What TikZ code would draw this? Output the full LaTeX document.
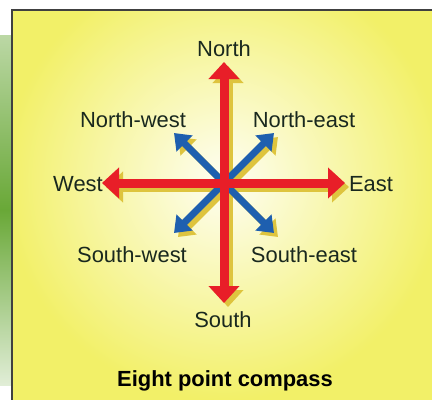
\documentclass[tikz,border=0pt]{standalone}
\usepackage{fontspec}
\setmainfont{Liberation Sans}
\usepackage{tikz}
\usetikzlibrary{arrows.meta}
\definecolor{paper}{RGB}{242,240,104}
\definecolor{ochre}{RGB}{222,196,62}
\definecolor{compred}{RGB}{232,30,40}
\definecolor{compblue}{RGB}{30,95,175}
\definecolor{leaf}{RGB}{105,168,55}
\definecolor{ink}{RGB}{25,40,30}
\tikzset{
  main/.style={line width=9bp, compred, -{Triangle[width=30bp,length=17bp]}},
  minor/.style={line width=7bp, compblue, -{Triangle[width=22bp,length=15bp]}},
  point/.style={font=\fontsize{22}{26}\selectfont, text=ink, inner sep=0pt, anchor=base},
  caption/.style={point, font=\fontsize{22}{26}\selectfont\bfseries, text=black}
}

\begin{document}
\begin{tikzpicture}[x=1bp, y=-1bp]
		\useasboundingbox (0,0) rectangle (432,400);
		\clip (0,0) rectangle (432,400);
		% page and box
		\fill[white] (0,0) rectangle (432,400);
		\shade[top color=leaf!45!white, bottom color=leaf!20!white, middle color=leaf] (0,35) rectangle (11,385);
		\fill[paper] (12,10) rectangle (440,410);
		\begin{scope}
			\clip (12,10) rectangle (440,410);
			\shade[inner color=paper!8!white, outer color=paper] (224,180) circle (220);
		\end{scope}
		\draw[line width=2bp, black!75] (12,10) rectangle (440,410);
		% compass points
		\coordinate (c) at (224,183);
		\coordinate (n) at (224,62);
		\coordinate (s) at (224,303);
		\coordinate (w) at (102,183);
		\coordinate (e) at (345,183);
		\coordinate (ne) at (274,133);
		\coordinate (nw) at (174,133);
		\coordinate (se) at (274,233);
		\coordinate (sw) at (174,233);
		% shadows
		\foreach \p in {ne,nw,se,sw} \draw[minor, ochre] ([shift={(4,4)}]c) -- ([shift={(4,4)}]\p);
		\foreach \p in {n,s,w,e} \draw[main, ochre] ([shift={(4,4)}]c) -- ([shift={(4,4)}]\p);
		% arrows
		\foreach \p in {ne,nw,se,sw} \draw[minor] (c) -- (\p);
		\foreach \p in {n,s,w,e} \draw[main] (c) -- (\p);
		% names
		\node[point] (north) at (224,56) {North};
		\node[point] (northwest) at (133,127) {North-west};
		\node[point] (northeast) at (304,127) {North-east};
		\node[point] (west) at (78,191) {West};
		\node[point] (east) at (371,191) {East};
		\node[point] (southwest) at (132,262) {South-west};
		\node[point] (southeast) at (304,262) {South-east};
		\node[point] (south) at (223,327) {South};
		\node[caption] (title) at (225,386) {Eight point compass};
	\end{tikzpicture}
\end{document}
